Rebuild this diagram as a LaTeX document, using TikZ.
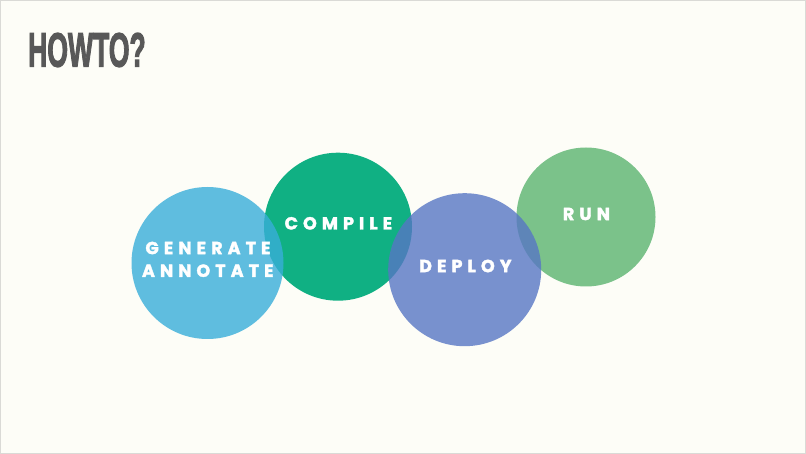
\documentclass[tikz,border=0pt]{standalone}
\usepackage{fontspec}
\setmainfont{Liberation Sans}
\newfontfamily\labfont[LetterSpace=29,FakeBold=2]{Poppins}
\newfontfamily\titlefont[FakeBold=3]{Liberation Sans}
\definecolor{bg}{RGB}{253,253,247}
\definecolor{frame}{RGB}{218,218,214}
\definecolor{titlegray}{RGB}{88,88,88}
\definecolor{cteal}{RGB}{16,176,131}
\definecolor{cgreen}{RGB}{123,194,138}
\definecolor{clight}{RGB}{56,174,217}
\definecolor{cblue}{RGB}{87,118,196}
\tikzset{
  disc/.style={circle, inner sep=0pt, draw=none},
  lab/.style={inner sep=0pt, text=white, font=\labfont\bfseries\fontsize{17.5}{20}\selectfont},
}
\begin{document}
\begin{tikzpicture}[x=1pt,y=-1pt]
\useasboundingbox (0,0) rectangle (806,454);
\fill[bg] (0,0) rectangle (806,454);
\draw[frame, line width=1pt] (0.5,0.5) rectangle (805.5,453.5);
\node[anchor=base west, inner sep=0pt, text=titlegray] (title) at (28,66.5)
  {\resizebox{117.5pt}{33.5pt}{\titlefont\bfseries HOWTO?}};
\node[disc, fill=cteal, minimum size=148pt] (compile) at (338,226.7) {};
\node[disc, fill=cgreen, minimum size=139pt] (run) at (586,217) {};
\node[disc, fill=clight, fill opacity=0.8, minimum size=152pt] (generate) at (207.5,263) {};
\node[disc, fill=cblue, fill opacity=0.8, minimum size=153pt] (deploy) at (464.7,269.7) {};
\node[lab] (tgen) at (208,248) {GENERATE};
\node[lab] (tann) at (207.8,270.7) {ANNOTATE};
\node[lab] (tcomp) at (338.4,223.3) {COMPILE};
\node[lab] (tdep) at (465.4,266) {DEPLOY};
\node[lab] (trun) at (586.4,214) {RUN};
\end{tikzpicture}
\end{document}
